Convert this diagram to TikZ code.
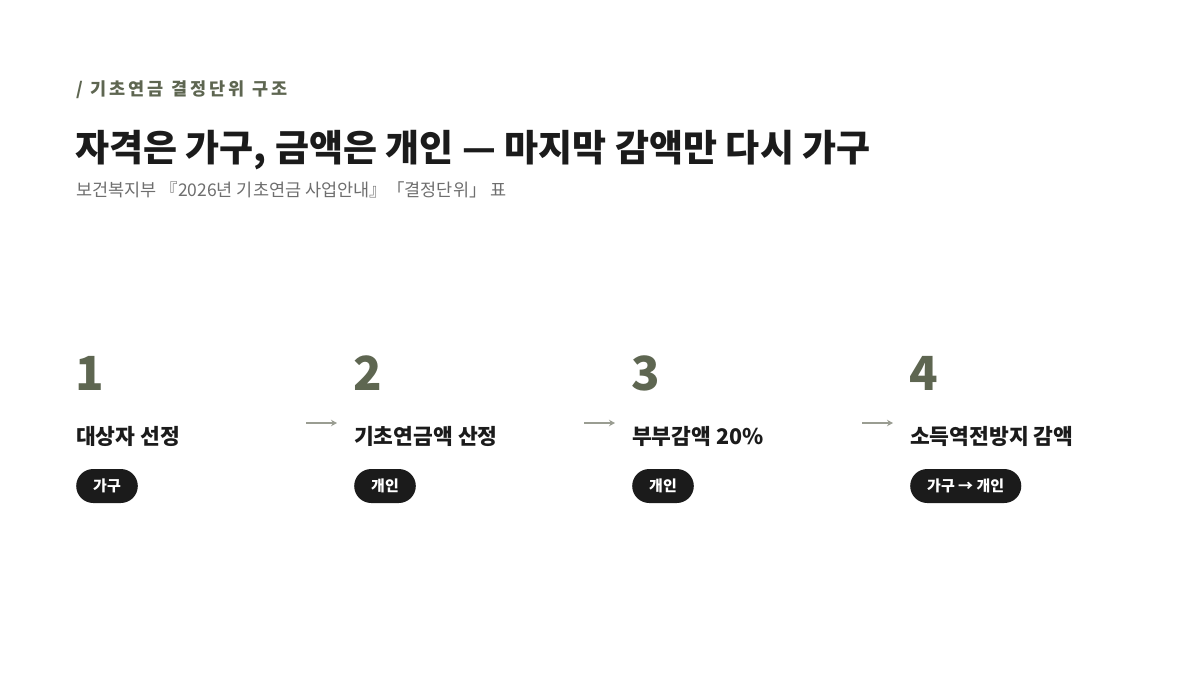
\documentclass[tikz,border=0pt]{standalone}
\usepackage{fontspec}
\usepackage{xcolor}
\usepackage{tikz}
\usetikzlibrary{arrows.meta}
\usetikzlibrary{positioning}
\setmainfont{Noto Sans CJK KR}
\newfontfamily\kicker{Noto Sans CJK KR}[LetterSpace=18]

\definecolor{olive}{HTML}{5E6651}
\definecolor{ink}{HTML}{1B1B1B}
\definecolor{muted}{HTML}{6E6E6E}
\definecolor{arrowgray}{HTML}{9A9D92}

\begin{document}
\begin{tikzpicture}[
  x=1pt, y=-1pt,
  stepnum/.style={anchor=base west, inner sep=0pt, text=olive, font=\fontsize{47}{47}\selectfont\bfseries},
  steptitle/.style={anchor=base west, inner sep=0pt, text=ink, font=\fontsize{21.5}{21.5}\selectfont\bfseries},
  unitpill/.style={anchor=west, fill=ink, text=white, rounded corners=17pt, minimum height=34pt,
    inner xsep=17pt, inner ysep=0pt, font=\fontsize{15}{15}\selectfont\bfseries},
  flow/.style={draw=arrowgray, line width=1.1pt, -{Stealth[length=6pt,width=6.5pt]}},
]

\useasboundingbox (0,0) rectangle (1200,675);

% header
\node [anchor=base west, inner sep=0pt, text=olive, font=\kicker\fontsize{17.5}{17.5}\selectfont\bfseries]
  (kicker) at (76,95) {/ 기초연금 결정단위 구조};
\node [anchor=base west, inner sep=0pt, text=ink, font=\fontsize{37}{37}\selectfont\bfseries]
  (title) at (75,161) {자격은 가구, 금액은 개인 — 마지막 감액만 다시 가구};
\node [anchor=base west, inner sep=0pt, text=muted, font=\fontsize{17.5}{17.5}\selectfont]
  (source) at (76,196) {보건복지부 『2026년 기초연금 사업안내』「결정단위」 표};

% steps
\node [stepnum] (num1) at (75,390) {1};
\node [stepnum] (num2) at (353,390) {2};
\node [stepnum] (num3) at (631,390) {3};
\node [stepnum] (num4) at (909,390) {4};

\node [steptitle] (step1) at (76,444) {대상자 선정};
\node [steptitle] (step2) at (354,444) {기초연금액 산정};
\node [steptitle] (step3) at (632,444) {부부감액 20\%};
\node [steptitle] (step4) at (910,444) {소득역전방지 감액};

\node [unitpill] (unit1) at (76,486) {가구};
\node [unitpill] (unit2) at (354,486) {개인};
\node [unitpill] (unit3) at (632,486) {개인};
\node [unitpill] (unit4) at (910,486) {가구 → 개인};

% connectors
\coordinate (from1) at (306,423);
\coordinate (from2) at (584,423);
\coordinate (from3) at (862,423);
\draw [flow] (from1) -- ++(31,0);
\draw [flow] (from2) -- ++(31,0);
\draw [flow] (from3) -- ++(31,0);

\end{tikzpicture}
\end{document}
